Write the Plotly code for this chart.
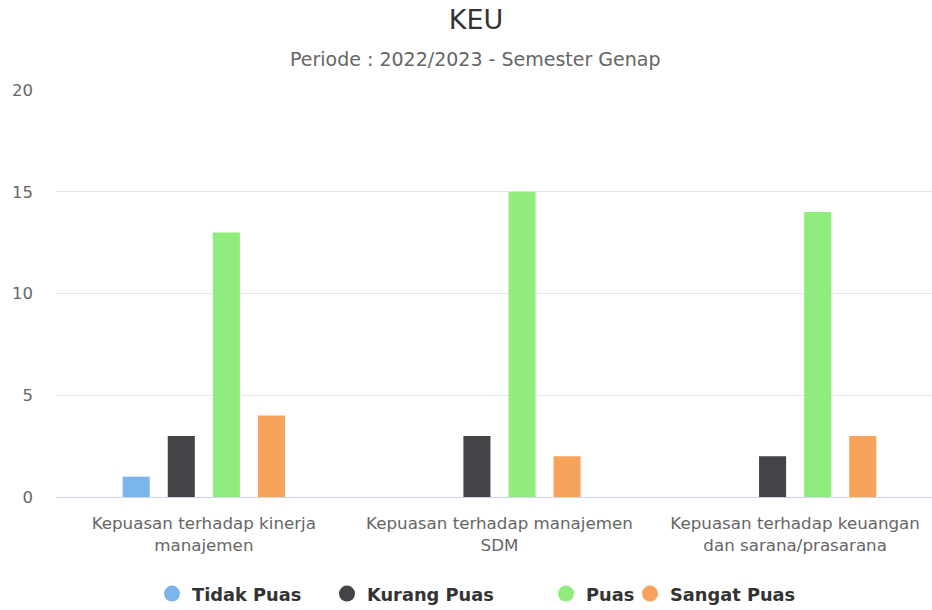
import plotly.graph_objects as go

categories = [
    "Kepuasan terhadap kinerja manajemen",
    "Kepuasan terhadap manajemen SDM",
    "Kepuasan terhadap keuangan dan sarana/prasarana",
]
tick_labels = [
    "Kepuasan terhadap kinerja<br>manajemen",
    "Kepuasan terhadap manajemen<br>SDM",
    "Kepuasan terhadap keuangan<br>dan sarana/prasarana",
]
series_names = ["Tidak Puas", "Kurang Puas", "Puas", "Sangat Puas"]
tidak_puas = [1, 0, 0]
kurang_puas = [3, 3, 2]
puas = [13, 15, 14]
sangat_puas = [4, 2, 3]
colors = ["#7cb5ec", "#434348", "#90ed7d", "#f7a35c"]

values = [tidak_puas, kurang_puas, puas, sangat_puas]
x_idx = list(range(len(categories)))

FONT = "DejaVu Sans"
# legend text start positions (px) in the reference
legend_text_x = [193, 368, 587, 671]

fig = go.Figure()
for name, vals, c in zip(series_names, values, colors):
    fig.add_trace(go.Bar(x=x_idx, y=vals, name=name, marker=dict(color=c, line=dict(width=0)),
                         showlegend=False, hovertext=categories))
legend_keys = ["legend", "legend2", "legend3", "legend4"]
for name, c, lk in zip(series_names, colors, legend_keys):
    fig.add_trace(go.Scatter(x=[None], y=[None], mode="markers", name=name, legend=lk,
                             marker=dict(symbol="circle", size=17, color=c)))

legend_common = dict(orientation="h", xref="container", yref="container", xanchor="left",
                     y=1-594/610, yanchor="middle", bgcolor="rgba(0,0,0,0)",
                     font=dict(family=FONT, size=17.8, color="#333333", weight="bold"),
                     itemwidth=30)
legends = {}
for lk, tx in zip(legend_keys, legend_text_x):
    legends[lk] = dict(legend_common, x=(tx - 41)/932)

fig.update_layout(
    width=932, height=610,
    margin=dict(l=56, r=0, t=90, b=113, autoexpand=False),
    paper_bgcolor="white", plot_bgcolor="white",
    barmode="group", bargap=0.39, bargroupgap=0.4,
    font=dict(family=FONT, color="#666666"),
    title=dict(text="KEU", x=476/932, xref="container", xanchor="center",
               y=1-20/610, yref="container", yanchor="middle",
               font=dict(family=FONT, size=27, color="#333333")),
    annotations=[dict(text="Periode : 2022/2023 - Semester Genap", xref="paper", yref="paper",
                      x=(475-56)/876, y=1+31/407, xanchor="center", yanchor="middle",
                      showarrow=False, font=dict(family=FONT, size=19, color="#666666"))],
    xaxis=dict(tickmode="array", tickvals=x_idx, ticktext=tick_labels, range=[-0.5, 2.463],
               showgrid=False, zeroline=False, showline=True, linecolor="#ccd6eb", linewidth=1,
               ticks="", ticklabelstandoff=11, automargin=False,
               tickfont=dict(family=FONT, size=16.7, color="#666666")),
    yaxis=dict(range=[0, 20], tickvals=[0, 5, 10, 15, 20], showgrid=True, gridcolor="#e6e6e6",
               gridwidth=1, zeroline=False, showline=False, ticks="", ticklabelstandoff=22,
               automargin=False, tickfont=dict(family=FONT, size=16.5, color="#666666")),
    **legends,
)
fig.write_html("out.html", config={"displayModeBar": False},
               post_script="document.body.style.margin='0';document.body.style.overflow='hidden';")
